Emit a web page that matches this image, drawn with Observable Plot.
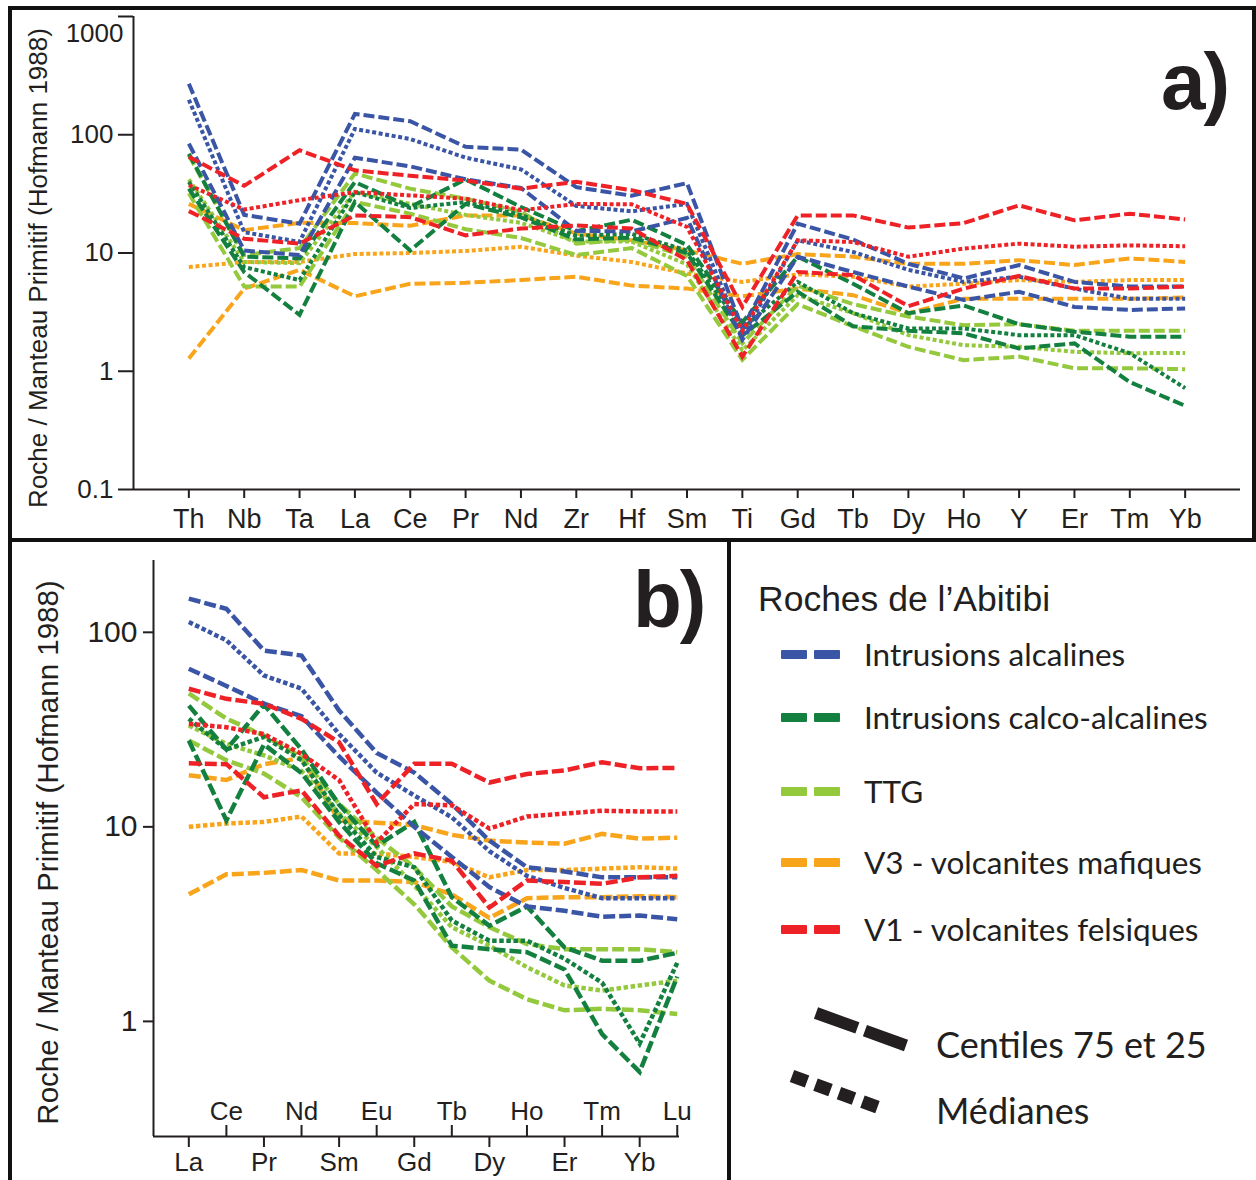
<!DOCTYPE html>
<html><head><meta charset="utf-8">
<script src="https://cdn.jsdelivr.net/npm/d3@7"></script>
<script src="https://cdn.jsdelivr.net/npm/@observablehq/plot@0.6"></script>
<style>
body{margin:0;background:#fff;}
#root{position:relative;width:1256px;height:1180px;overflow:hidden;background:#fff;font-family:"Liberation Sans",Arial,sans-serif;color:#231f20;}
.abs{position:absolute;white-space:nowrap;}
.bar{position:absolute;background:#111;}
.leg{position:absolute;white-space:nowrap;font-family:Lato,"Open Sans",sans-serif;color:#231f20;}
.sw{position:absolute;width:26px;height:9px;border-radius:1px;}
</style></head><body>
<div id="root">
  <div id="pa" class="abs" style="left:0;top:0;width:1256px;height:540px;"></div>
  <div id="pb" class="abs" style="left:0;top:540px;width:730px;height:640px;"></div>
  <div id="legend"></div>
  <div class="bar" style="left:8px;top:6px;width:1248px;height:4px;"></div>
  <div class="bar" style="left:8px;top:6px;width:4px;height:1174px;"></div>
  <div class="bar" style="left:1252px;top:6px;width:4px;height:536px;"></div>
  <div class="bar" style="left:8px;top:538px;width:1248px;height:4px;"></div>
  <div class="bar" style="left:727px;top:540px;width:4px;height:640px;"></div>
  <div class="abs" style="left:1161px;top:42px;font-size:80px;font-weight:bold;line-height:80px;letter-spacing:-2px;color:#231f20;">a)</div>
  <div class="abs" style="left:633px;top:560px;font-size:80px;font-weight:bold;line-height:80px;letter-spacing:-2px;color:#231f20;">b)</div>
</div>
<script>
// ---------- categories ----------
const elementsA = ["Th","Nb","Ta","La","Ce","Pr","Nd","Zr","Hf","Sm","Ti","Gd","Tb","Dy","Ho","Y","Er","Tm","Yb"];
const elementsB = ["La","Ce","Pr","Nd","Sm","Eu","Gd","Tb","Dy","Ho","Er","Tm","Yb","Lu"];
const groups = ["Intrusions alcalines","Intrusions calco-alcalines","TTG","V3 - volcanites mafiques","V1 - volcanites felsiques"];
const groupColors = ["#3A55A5","#13803F","#95C93D","#F9A51B","#EE2226"];
const yTicksA = [0.1, 1, 10, 100, 1000];
const yTicksB = [1, 10, 100];
const yTitle = "Roche / Manteau Primitif (Hofmann 1988)";

// ---------- panel a : multi-element (normalised to primitive mantle) ----------
const alcP75A = [270,21,17.7,150,130,79,75,36,30.5,39,2.3,17.7,13,8.1,6.1,7.9,5.7,5.2,5.2];
const alcMedA = [198,15,12.4,112,92,64,51,25,22.5,26,2.0,12.8,10.2,7.2,5.7,6.3,5.0,4.1,4.1];
const alcP25A = [84,10.5,9.6,64,54,42,35.5,15.4,15.2,19.8,1.85,9.3,6.9,5.2,4.0,4.7,3.5,3.3,3.4];
const calcP75A = [69,9.3,9.0,39.8,24.5,42,24.5,15.3,19.1,11.7,2.6,9.3,5.5,3.1,3.6,2.5,2.16,1.96,1.96];
const calcMedA = [40,7.6,5.9,32.7,24,27,21,14,14.5,10.5,2.3,5.7,3.1,2.3,2.3,2.02,2.02,1.42,0.72];
const calcP25A = [35,6.9,3.0,27,10.5,26,20,13,13.5,10,2.0,4.7,2.4,2.2,2.09,1.56,1.72,0.81,0.51];
const ttgP75A = [67,9.6,11,47,35,28.8,22.3,12.0,13.0,9.3,1.72,5.3,3.7,2.9,2.45,2.5,2.2,2.2,2.2];
const ttgMedA = [42,8.4,8.2,33,26,21,18,12.5,12.5,8.0,1.5,4.4,3.1,2.02,1.66,1.61,1.46,1.42,1.43];
const ttgP25A = [32,5.2,5.2,27,21.5,15.9,13.4,9.6,11,6.4,1.25,3.7,2.4,1.61,1.24,1.33,1.06,1.06,1.04];
const v3P75A = [26,15.6,18,17.9,17,20.8,20.8,14.6,12.8,10.5,8.1,9.8,9.3,8.1,8.1,8.7,7.9,9.0,8.4];
const v3MedA = [7.6,8.4,8.4,9.8,10,10.4,11.3,9.5,8.4,6.7,5.7,6.6,6.3,5.2,5.5,5.9,5.7,5.9,5.9];
const v3P25A = [1.28,5.0,7.2,4.3,5.5,5.6,5.9,6.3,5.3,5.0,4.3,5.0,4.4,3.1,4.1,4.1,4.1,4.1,4.2];
const v1P75A = [65,37,74,50,45,41,35,40,34,26,3.5,20.8,20.8,16.4,17.9,25.3,18.9,21.5,19.2];
const v1MedA = [37.5,23.3,28,32.7,30.7,28.8,23,26,25.8,16.6,2.2,12.8,12.4,9.3,10.9,12.0,11.3,11.6,11.4];
const v1P25A = [22.6,13.2,12.0,20.8,20.1,14.1,16.1,17.1,16.1,8.7,1.33,6.9,6.5,3.55,5.0,6.4,5.0,5.0,5.2];

// ---------- panel b : rare earth elements ----------
const alcP75B = [149,132,80.6,76,39.6,24,19,13.1,8.5,6.2,5.9,5.5,5.5,5.5];
const alcMedB = [113,91,60,51.3,30,19,14.5,11.2,7.5,5.6,4.85,4.3,4.3,4.3];
const alcP25B = [65,53,43,37,23,15,10,7.0,4.9,3.9,3.7,3.45,3.5,3.35];
const calcP75B = [42,25,42.5,25,13,8,10.6,4.35,3.1,3.9,2.4,2.05,2.05,2.25];
const calcMedB = [36,25,29,22,11.5,7,6.2,3.3,2.6,2.6,2.1,1.58,0.77,2.0];
const calcP25B = [27.8,10.8,26.5,18.9,10.6,6.5,5.3,2.45,2.35,2.27,1.85,0.86,0.55,1.7];
const ttgP75B = [48.5,36,29.5,22.8,13.1,8.8,6.2,3.9,3.05,2.5,2.35,2.35,2.35,2.27];
const ttgMedB = [33.2,26.7,23.3,19.4,11.7,7.9,5.0,3.05,2.45,1.9,1.53,1.44,1.53,1.62];
const ttgP25B = [27.8,22,18.8,14.2,8.8,6.0,4.0,2.4,1.62,1.3,1.14,1.16,1.14,1.09];
const v3P75B = [18.4,17.4,21,22.6,10.8,10.5,10.2,9.1,8.5,8.3,8.2,9.2,8.7,8.8];
const v3MedB = [10.0,10.4,10.6,11.3,7.3,7.3,7.0,6.6,5.5,6.0,6.0,6.1,6.2,6.1];
const v3P25B = [4.5,5.7,5.8,6.0,5.3,5.3,5.2,4.5,3.4,4.3,4.35,4.35,4.4,4.35];
const v1P75B = [51.3,45.5,42.9,35.9,27.2,13.1,21.1,21.1,16.9,18.7,19.5,21.5,20.0,20.1];
const v1MedB = [33.9,32.5,30,23.7,17.4,8.3,13.1,12.9,9.8,11.3,11.7,12.1,12.0,12.0];
const v1P25B = [21.2,21,14.2,15.4,9.0,6.3,7.3,6.7,3.85,5.3,5.2,5.1,5.5,5.6];

// drawing order: orange, light green, dark green, blue, red  [group index, values, kind]
const seriesA = [
  [3,v3P75A,"q"],[3,v3MedA,"m"],[3,v3P25A,"q"],
  [2,ttgP75A,"q"],[2,ttgMedA,"m"],[2,ttgP25A,"q"],
  [1,calcP75A,"q"],[1,calcMedA,"m"],[1,calcP25A,"q"],
  [0,alcP75A,"q"],[0,alcMedA,"m"],[0,alcP25A,"q"],
  [4,v1P75A,"q"],[4,v1MedA,"m"],[4,v1P25A,"q"]
];
const seriesB = [
  [3,v3P75B,"q"],[3,v3MedB,"m"],[3,v3P25B,"q"],
  [2,ttgP75B,"q"],[2,ttgMedB,"m"],[2,ttgP25B,"q"],
  [1,calcP75B,"q"],[1,calcMedB,"m"],[1,calcP25B,"q"],
  [0,alcP75B,"q"],[0,alcMedB,"m"],[0,alcP25B,"q"],
  [4,v1P75B,"q"],[4,v1MedB,"m"],[4,v1P25B,"q"]
];

function lineMarks(series, width, dash, dot) {
  return series.map(([g, vals, kind]) => Plot.line(vals, {
    x: (d, i) => i, y: d => d,
    stroke: groupColors[g], strokeWidth: width,
    strokeDasharray: kind === "q" ? dash : dot,
    strokeLinecap: "butt", strokeLinejoin: "miter", strokeMiterlimit: 6
  }));
}

const baseStyle = {fontFamily: '"Liberation Sans", Arial, sans-serif', color: "#231f20", background: "transparent", overflow: "visible"};

// ---------- Panel a ----------
const yMinA = yTicksA[0], yMaxA = yTicksA[yTicksA.length - 1];
const plotA = Plot.plot({
  width: 1256, height: 540,
  marginLeft: 133, marginRight: 16, marginTop: 16, marginBottom: 51,
  style: baseStyle,
  x: {type: "linear", domain: [-1, elementsA.length]},
  y: {type: "log", domain: [yMinA, yMaxA]},
  marks: [
    Plot.ruleX([-1], {stroke: "#231f20", strokeWidth: 2}),
    Plot.ruleY([yMinA], {stroke: "#231f20", strokeWidth: 2}),
    Plot.axisY({ticks: yTicksA, tickSize: 15, tickPadding: 5, strokeWidth: 2, fontSize: 26,
      tickFormat: d => d === yMaxA ? "" : String(d), label: null}),
    Plot.text([yMaxA], {y: d => d, frameAnchor: "left", dx: -10, dy: 17, textAnchor: "end",
      text: d => String(d), fontSize: 26}),
    Plot.axisX({ticks: d3.range(elementsA.length), tickSize: 9, tickPadding: 10, strokeWidth: 2,
      fontSize: 27, tickFormat: i => elementsA[i], label: null}),
    Plot.text([yTitle], {frameAnchor: "left", textAnchor: "middle", lineAnchor: "middle",
      dx: -95, dy: 15, rotate: -90, fontSize: 26, text: d => d}),
    ...lineMarks(seriesA, 4, "11,4", "4,2.6")
  ]
});
document.getElementById("pa").appendChild(plotA);

// ---------- Panel b ----------
const yDomB = [0.256, 234];
const xDomB = [-0.94, elementsB.length - 1 + 0.06];
const evens = d3.range(elementsB.length).filter(i => i % 2 === 0);
const odds = d3.range(elementsB.length).filter(i => i % 2 === 1);
const plotB = Plot.plot({
  width: 730, height: 640,
  marginLeft: 153, marginRight: 51, marginTop: 20, marginBottom: 44,
  style: baseStyle,
  x: {type: "linear", domain: xDomB},
  y: {type: "log", domain: yDomB},
  marks: [
    Plot.ruleX([xDomB[0]], {stroke: "#231f20", strokeWidth: 2}),
    Plot.ruleY([yDomB[0]], {stroke: "#231f20", strokeWidth: 2}),
    Plot.axisY({ticks: yTicksB, tickSize: 10, tickPadding: 6, strokeWidth: 2, fontSize: 30,
      tickFormat: d => String(d), label: null}),
    Plot.axisX({ticks: evens, tickSize: 11, tickPadding: 5, strokeWidth: 2, fontSize: 26,
      tickFormat: i => elementsB[i], label: null}),
    Plot.ruleX(odds, {x: d => d, insetTop: 576 - 11, stroke: "#231f20", strokeWidth: 2}),
    Plot.text(odds, {x: d => d, frameAnchor: "bottom", lineAnchor: "middle", dy: -25, text: i => elementsB[i], fontSize: 26}),
    Plot.text([yTitle], {frameAnchor: "left", textAnchor: "middle", lineAnchor: "middle",
      dx: -105, dy: 4, rotate: -90, fontSize: 29.5, text: d => d}),
    ...lineMarks(seriesB, 4.5, "12,4", "4.5,2.6")
  ]
});
document.getElementById("pb").appendChild(plotB);

// ---------- Legend (HTML) ----------
const legend = document.getElementById("legend");
const legY = [654, 717.5, 791, 862.5, 929.5];
let html = `<div class="abs" style="left:758px;top:582px;font-size:35.5px;line-height:35.5px;color:#231f20;">Roches de l’Abitibi</div>`;
groups.forEach((g, k) => {
  html += `<div class="sw" style="left:781px;top:${legY[k]-4.5}px;background:${groupColors[k]}"></div>`;
  html += `<div class="sw" style="left:813.5px;top:${legY[k]-4.5}px;background:${groupColors[k]}"></div>`;
  html += `<div class="leg" style="left:864px;top:${legY[k]-15.5}px;font-size:31.5px;line-height:31.5px;">${g}</div>`;
});
html += `<svg class="abs" style="left:0;top:0;overflow:visible;pointer-events:none" width="1256" height="1180">
    <line x1="816" y1="1013" x2="906" y2="1045.5" stroke="#231f20" stroke-width="12" stroke-dasharray="44,8"/>
    <line x1="792" y1="1076" x2="881" y2="1108.5" stroke="#231f20" stroke-width="13" stroke-dasharray="16,9"/>
  </svg>`;
html += `<div class="leg" style="left:936px;top:1026px;font-size:36px;line-height:36px;">Centiles 75 et 25</div>`;
html += `<div class="leg" style="left:936px;top:1092px;font-size:36px;line-height:36px;">Médianes</div>`;
legend.innerHTML = html;
</script>
</body></html>
